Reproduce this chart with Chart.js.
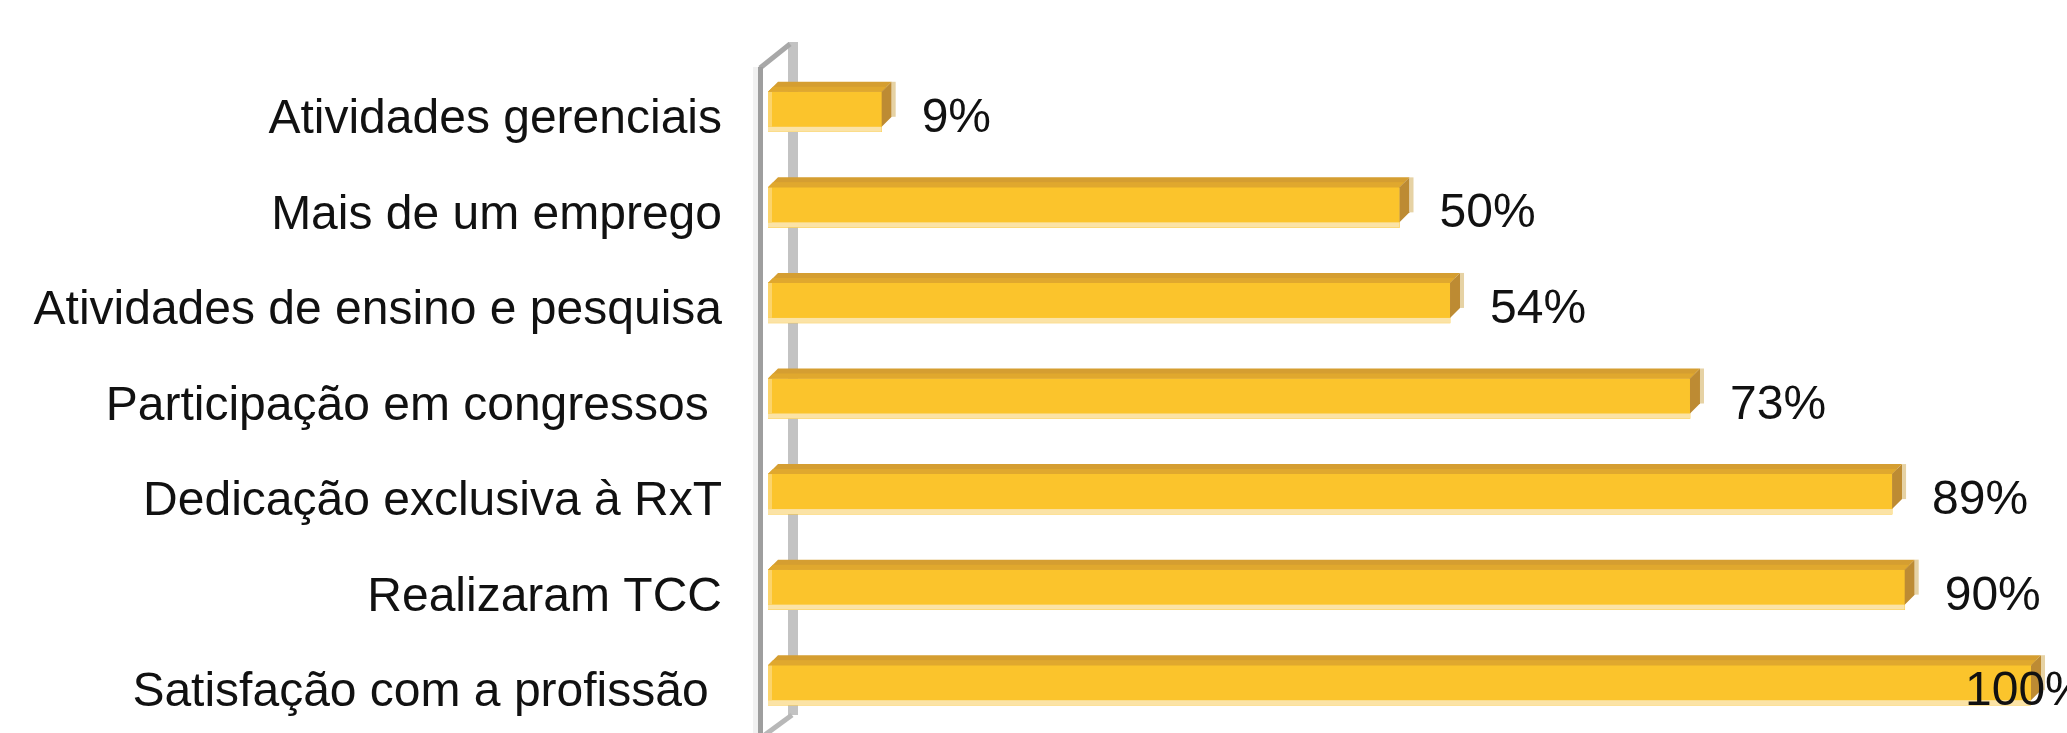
<!DOCTYPE html>
<html>
<head>
<meta charset="utf-8">
<script src="https://cdn.jsdelivr.net/npm/chart.js@4.4.0/dist/chart.umd.min.js"></script>
<style>
  html, body { margin: 0; padding: 0; background: #ffffff; }
  #wrap { width: 2067px; height: 733px; position: relative; }
</style>
</head>
<body>
<div id="wrap"><canvas id="c" width="2067" height="733"></canvas></div>
<script>
const categories = [
  "Atividades gerenciais",
  "Mais de um emprego",
  "Atividades de ensino e pesquisa",
  "Participação em congressos ",
  "Dedicação exclusiva à RxT",
  "Realizaram TCC",
  "Satisfação com a profissão "
];
const values = [9, 50, 54, 73, 89, 90, 100];
const valueLabels = ["9%", "50%", "54%", "73%", "89%", "90%", "100%"];

const FONT = '"Liberation Sans", Arial, Helvetica, sans-serif';
const D = 10; // 3D depth

const wallPlugin = {
  id: 'wall3d',
  beforeDatasetsDraw(chart) {
    const ctx = chart.ctx;
    const a = chart.chartArea;
    const L = a.left, T = a.top, B = a.bottom;
    ctx.save();
    ctx.lineCap = 'butt';
    ctx.strokeStyle = '#c3c3c3';
    ctx.lineWidth = 10;
    ctx.beginPath();
    ctx.moveTo(L + 25, T - 22);
    ctx.lineTo(L + 25, B - 18);
    ctx.stroke();
    ctx.strokeStyle = '#a8a8a8';
    ctx.lineWidth = 5;
    ctx.beginPath();
    ctx.moveTo(L - 8, T + 4);
    ctx.lineTo(L + 22, T - 20);
    ctx.stroke();
    ctx.strokeStyle = '#b8b8b8';
    ctx.beginPath();
    ctx.moveTo(L + 24, B - 18);
    ctx.lineTo(L - 6, B + 4);
    ctx.stroke();
    ctx.fillStyle = '#f1f1f1';
    ctx.fillRect(L - 15, T + 3, 5, B - T);
    ctx.fillStyle = '#9e9e9e';
    ctx.fillRect(L - 10, T + 3, 5, B - T);
    ctx.restore();
  },
  afterDatasetsDraw(chart) {
    const ctx = chart.ctx;
    const meta = chart.getDatasetMeta(0);
    ctx.save();
    meta.data.forEach((bar, i) => {
      const p = bar.getProps(['x', 'y', 'base', 'height'], true);
      const x0 = p.base, x1 = p.x;
      const top = p.y - p.height / 2, bot = p.y + p.height / 2;
      ctx.fillStyle = '#fbe3a6';
      ctx.fillRect(x0, bot - 5, x1 - x0, 5);
      ctx.fillStyle = '#fcd46a';
      ctx.fillRect(x0, top, 4, bot - top - 5);
      ctx.fillStyle = '#d59e31';
      ctx.beginPath();
      ctx.moveTo(x0, top);
      ctx.lineTo(x0 + D, top - D);
      ctx.lineTo(x1 + D, top - D);
      ctx.lineTo(x1, top);
      ctx.closePath();
      ctx.fill();
      ctx.fillStyle = '#e0a82e';
      ctx.beginPath();
      ctx.moveTo(x0, top);
      ctx.lineTo(x0 + D / 2, top - D / 2);
      ctx.lineTo(x1 + D / 2, top - D / 2);
      ctx.lineTo(x1, top);
      ctx.closePath();
      ctx.fill();
      ctx.fillStyle = '#bd8b33';
      ctx.beginPath();
      ctx.moveTo(x1, top);
      ctx.lineTo(x1 + D, top - D);
      ctx.lineTo(x1 + D, bot - 5 - D);
      ctx.lineTo(x1, bot - 5);
      ctx.closePath();
      ctx.fill();
      ctx.fillStyle = '#e6d2a4';
      ctx.fillRect(x1 + D, top - D, 4, bot - top - 5);
      ctx.fillStyle = '#111111';
      ctx.font = '48px ' + FONT;
      ctx.textAlign = 'left';
      ctx.textBaseline = 'alphabetic';
      const lx = Math.min(x1 + 40, chart.width - 102);
      ctx.fillText(valueLabels[i], lx, p.y + 20);
    });
    ctx.restore();
  }
};

new Chart(document.getElementById('c'), {
  type: 'bar',
  data: {
    labels: categories,
    datasets: [{
      data: values,
      backgroundColor: '#fbc42c',
      borderWidth: 0,
      barThickness: 40
    }]
  },
  options: {
    indexAxis: 'y',
    responsive: false,
    animation: false,
    layout: { padding: { top: 64, right: 36, bottom: 0, left: 0 } },
    plugins: {
      legend: { display: false },
      tooltip: { enabled: false }
    },
    scales: {
      x: {
        display: false,
        min: 0,
        max: 100
      },
      y: {
        position: 'left',
        afterFit(scale) {
          scale.width = 768;
          scale.paddingTop = 0;
          scale.paddingBottom = 0;
        },
        grid: { display: false, drawTicks: false },
        border: { display: false },
        ticks: {
          padding: 46,
          labelOffset: 8,
          color: '#111111',
          font: { family: FONT, size: 48 }
        }
      }
    }
  },
  plugins: [wallPlugin]
});
</script>
</body>
</html>
